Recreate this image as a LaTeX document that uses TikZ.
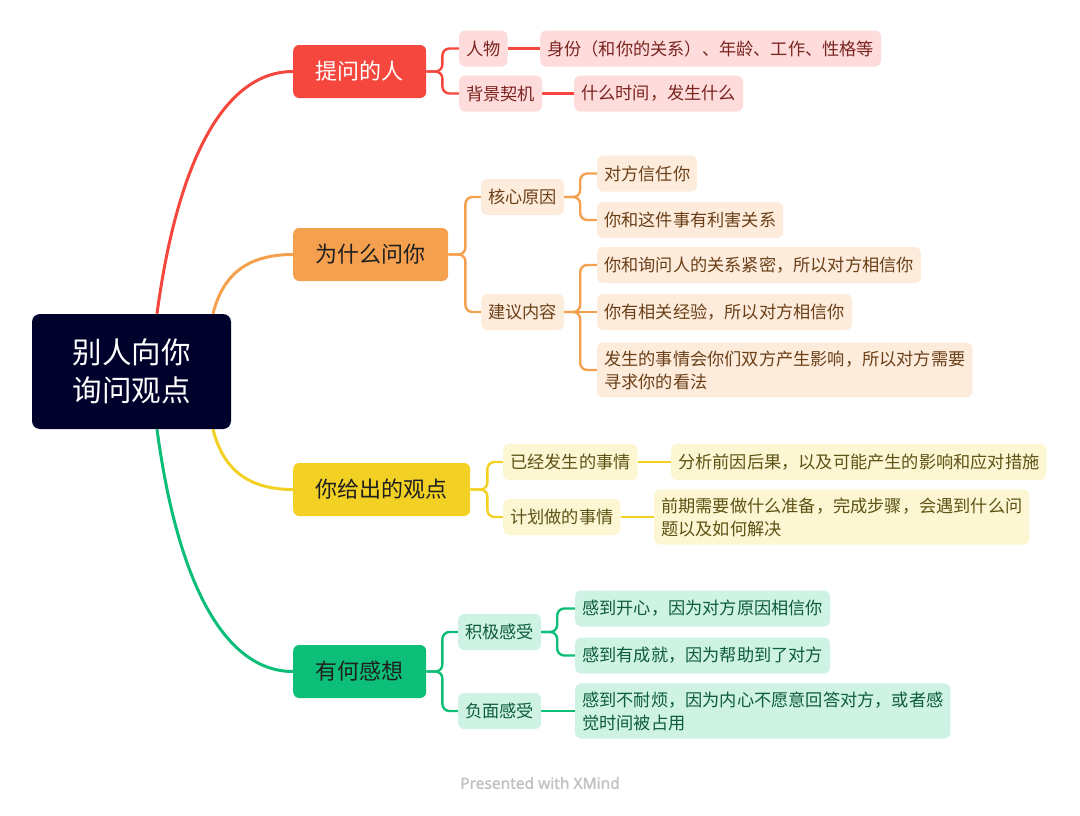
\documentclass[tikz,border=0pt]{standalone}
\usepackage{fontspec}
\setmainfont{Noto Sans CJK SC}
\newfontfamily\creditfont{Noto Sans}[FakeBold=1.6]
\usetikzlibrary{backgrounds}
\definecolor{xnavy}{HTML}{00022B}
\definecolor{xred}{HTML}{F5473E}
\definecolor{xredlt}{HTML}{FDDCDB}
\definecolor{xredtx}{HTML}{7A2420}
\definecolor{xorange}{HTML}{F5A04E}
\definecolor{xorangelt}{HTML}{FDEBDB}
\definecolor{xorangetx}{HTML}{6B4018}
\definecolor{xyellow}{HTML}{F2D124}
\definecolor{xyellowlt}{HTML}{FCF6D3}
\definecolor{xyellowtx}{HTML}{5E5214}
\definecolor{xgreen}{HTML}{0CBE78}
\definecolor{xgreenlt}{HTML}{CEF2E4}
\definecolor{xgreentx}{HTML}{0D5C3C}
\tikzset{
  % noder
  hub/.style={rounded corners=8pt,fill=xnavy,text=white,minimum width=199pt,
              minimum height=115pt,align=center,inner sep=0pt,
              font=\fontsize{29.5}{38}\selectfont},
  tp/.style={rounded corners=6pt,anchor=west,minimum height=53pt,inner xsep=22.5pt,
             inner ysep=0pt,text=black!88,font=\fontsize{22}{26}\selectfont},
  sb/.style={rounded corners=6pt,anchor=west,minimum height=36pt,inner xsep=7pt,
             inner ysep=8pt,align=left,font=\fontsize{17.2}{23}\selectfont},
  tred/.style={tp,fill=xred,text=white},
  torg/.style={tp,fill=xorange},
  tyel/.style={tp,fill=xyellow},
  tgrn/.style={tp,fill=xgreen},
  sred/.style={sb,fill=xredlt,text=xredtx},
  sorg/.style={sb,fill=xorangelt,text=xorangetx},
  syel/.style={sb,fill=xyellowlt,text=xyellowtx},
  sgrn/.style={sb,fill=xgreenlt,text=xgreentx},
  % linjer
  cv/.style={line width=3pt},
  bl/.style={line width=2.4pt,rounded corners=7pt},
}
\begin{document}
\begin{tikzpicture}[x=1pt,y=-1pt]
  \useasboundingbox (0,0) rectangle (1080,815);
  \node[hub] (hub) at (131.5,371.5) {别人向你\\询问观点};
  % huvudgrenar
  \node[tred] (ask)  at (293,71.5)  {提问的人};
  \node[torg] (why)  at (293,254.5) {为什么问你};
  \node[tyel] (view) at (293,489.5) {你给出的观点};
  \node[tgrn] (feel) at (293,671.5) {有何感想};
  % 提问的人
  \node[sred] (who)  at (459,48.5) {人物};
  \node[sred] (whod) at (540,48.5) {身份（和你的关系）、年龄、工作、性格等};
  \node[sred] (bg)   at (459,93.5) {背景契机};
  \node[sred] (bgd)  at (574,93.5) {什么时间，发生什么};
  % 为什么问你
  \node[sorg] (core) at (481,197) {核心原因};
  \node[sorg] (sug)  at (481,312) {建议内容};
  \node[sorg] (c1)   at (597,173.5) {对方信任你};
  \node[sorg] (c2)   at (597,220)   {你和这件事有利害关系};
  \node[sorg] (s1)   at (597,265)   {你和询问人的关系紧密，所以对方相信你};
  \node[sorg] (s2)   at (597,312)   {你有相关经验，所以对方相信你};
  \node[sorg] (s3)   at (597,370)   {发生的事情会你们双方产生影响，所以对方需要\\寻求你的看法};
  % 你给出的观点
  \node[syel] (done) at (503,462) {已经发生的事情};
  \node[syel] (doned) at (671,462) {分析前因后果，以及可能产生的影响和应对措施};
  \node[syel] (plan) at (503,517) {计划做的事情};
  \node[syel] (pland) at (654,517) {前期需要做什么准备，完成步骤，会遇到什么问\\题以及如何解决};
  % 有何感想
  \node[sgrn] (pos)  at (458,632) {积极感受};
  \node[sgrn] (neg)  at (458,711) {负面感受};
  \node[sgrn] (p1)   at (575,608.5) {感到开心，因为对方原因相信你};
  \node[sgrn] (p2)   at (575,655.5) {感到有成就，因为帮助到了对方};
  \node[sgrn] (n1)   at (575,711)   {感到不耐烦，因为内心不愿意回答对方，或者感\\觉时间被占用};
  \node[font=\creditfont\fontsize{15.5}{18}\selectfont,text=black!24] (credit)
    at (540,783) {Presented with XMind};
  \begin{scope}[on background layer]
  \draw[cv,xred]    ([xshift=25.5pt]hub.north) .. controls +(20,-150) and +(-70,0) .. (ask.west);
  \draw[cv,xorange] ([xshift=81.5pt]hub.north) .. controls +(10,-40) and +(-45,0) .. (why.west);
  \draw[cv,xyellow] ([xshift=81.5pt]hub.south) .. controls +(10,40) and +(-45,0) .. (view.west);
  \draw[cv,xgreen]  ([xshift=25.5pt]hub.south) .. controls +(20,150) and +(-70,0) .. (feel.west);
  \draw[bl,xred] (ask.east) -- ++(16,0) |- (who.west);
  \draw[bl,xred] (ask.east) -- ++(16,0) |- (bg.west);
  \draw[bl,xred] (who.east) -- (whod.west);
  \draw[bl,xred] (bg.east) -- (bgd.west);
  \draw[bl,xorange] (why.east) -- ++(17,0) |- (core.west);
  \draw[bl,xorange] (why.east) -- ++(17,0) |- (sug.west);
  \draw[bl,xorange] (core.east) -- ++(16,0) |- (c1.west);
  \draw[bl,xorange] (core.east) -- ++(16,0) |- (c2.west);
  \draw[bl,xorange] (sug.east) -- ++(16,0) |- (s1.west);
  \draw[bl,xorange] (sug.east) -- (s2.west);
  \draw[bl,xorange] (sug.east) -- ++(16,0) |- (s3.west);
  \draw[bl,xyellow] (view.east) -- ++(17,0) |- (done.west);
  \draw[bl,xyellow] (view.east) -- ++(17,0) |- (plan.west);
  \draw[bl,xyellow] (done.east) -- (doned.west);
  \draw[bl,xyellow] (plan.east) -- (pland.west);
  \draw[bl,xgreen] (feel.east) -- ++(16,0) |- (pos.west);
  \draw[bl,xgreen] (feel.east) -- ++(16,0) |- (neg.west);
  \draw[bl,xgreen] (pos.east) -- ++(16,0) |- (p1.west);
  \draw[bl,xgreen] (pos.east) -- ++(16,0) |- (p2.west);
  \draw[bl,xgreen] (neg.east) -- (n1.west);
  \end{scope}
\end{tikzpicture}
\end{document}
